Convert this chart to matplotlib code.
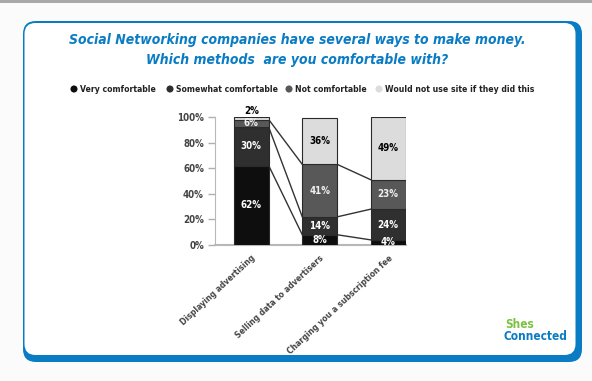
import numpy as np
import matplotlib
matplotlib.use('Agg')
import matplotlib.pyplot as plt
from matplotlib.patches import FancyBboxPatch, Rectangle

# chart data
categories = ['Displaying advertising', 'Selling data to advertisers', 'Charging you a subscription fee']
series = ['Very comfortable', 'Somewhat comfortable', 'Not comfortable', 'Would not use site if they did this']
very = [62, 8, 4]
somewhat = [30, 14, 24]
not_comf = [6, 41, 23]
would_not = [2, 36, 49]
yticks = [0, 20, 40, 60, 80, 100]

colors = ['#0e0e0e', '#2f2f2f', '#585858', '#dcdcdc']
label_colors = ['white', 'white', '#f0f0f0', 'black']
blue = '#0a7cc4'
plt.rcParams['font.family'] = ['DejaVu Sans']
plt.rcParams['font.stretch'] = 'condensed'

W, H = 592, 381
fig = plt.figure(figsize=(W / 100, H / 100), dpi=100)
fig.patch.set_facecolor('#fbfbfb')

# background frame, pixel coordinates
bg = fig.add_axes([0, 0, 1, 1])
bg.set_xlim(0, W)
bg.set_ylim(H, 0)
bg.axis('off')
bg.add_patch(Rectangle((0, 0), W, 3, color='#a9a9a9', lw=0))
bg.add_patch(FancyBboxPatch((23, 21), 559, 341, boxstyle='round,pad=0,rounding_size=13',
                            fc=blue, ec='none'))
bg.add_patch(FancyBboxPatch((24.5, 23), 551, 332, boxstyle='round,pad=0,rounding_size=11',
                            fc='white', ec='none'))

# title
bg.text(297, 40, 'Social Networking companies have several ways to make money.',
        ha='center', va='center', fontsize=10, fontweight='bold', style='italic', color=blue)
bg.text(297, 60, 'Which methods  are you comfortable with?',
        ha='center', va='center', fontsize=10, fontweight='bold', style='italic', color=blue)

# legend
leg_x = [74, 170, 289, 379]
for x, name, c in zip(leg_x, series, colors):
    bg.scatter([x], [89], s=26, color=c, edgecolors='none')
    bg.text(x + 6, 89, name, ha='left', va='center', fontsize=6.2, fontweight='bold', color='#222')

# logo
bg.text(505, 325, 'Shes', ha='left', va='center', fontsize=8.5, fontweight='bold', color='#7cc242')
bg.text(503, 337, 'Connected', ha='left', va='center', fontsize=8.5, fontweight='bold', color=blue)

# chart
ax = fig.add_axes([215 / W, 1 - 245 / H, 191 / W, 128 / H])
x = np.arange(len(categories))
width = 0.51
data = [very, somewhat, not_comf, would_not]
bottom = np.zeros(len(categories))
tops = []
for vals, c, lc in zip(data, colors, label_colors):
    vals = np.array(vals, dtype=float)
    ax.bar(x, vals, width, bottom=bottom, color=c, edgecolor='#2a2a2a', linewidth=0.8, zorder=3)
    for i in range(len(x)):
        v = vals[i]
        if v <= 2:
            ax.text(x[i], bottom[i] + v + 1, '%d%%' % v, ha='center', va='bottom',
                    fontsize=7, fontweight='bold', color='black', clip_on=False)
        else:
            ax.text(x[i], bottom[i] + v / 2, '%d%%' % v, ha='center', va='center',
                    fontsize=7, fontweight='bold', color=lc, zorder=4, clip_on=False)
    bottom = bottom + vals
    tops.append(bottom.copy())

# connector lines between bars
for t in tops[:3]:
    for i in range(len(x) - 1):
        ax.plot([x[i] + width / 2, x[i + 1] - width / 2], [t[i], t[i + 1]],
                color='#333333', lw=1, zorder=2)

ax.set_xlim(-0.53, 2.26)
ax.set_ylim(0, 100)
ax.set_yticks(yticks)
ax.set_yticklabels(['%d%%' % v for v in yticks], fontsize=7, fontweight='bold', color='#444')
ax.set_xticks(x)
ax.set_xticklabels(categories, rotation=43, ha='right', rotation_mode='anchor',
                   fontsize=6.2, fontweight='bold', color='#444')
ax.tick_params(axis='x', length=0, pad=6)
ax.tick_params(axis='y', length=5, color='#b0b0b0', width=1, pad=3)
for s in ['top', 'right']:
    ax.spines[s].set_visible(False)
ax.spines['left'].set_color('#b8b8b8')
ax.spines['bottom'].set_color('#b8b8b8')
ax.spines['bottom'].set_linewidth(1.5)
ax.set_facecolor('none')

fig.savefig('out.png', dpi=100)
